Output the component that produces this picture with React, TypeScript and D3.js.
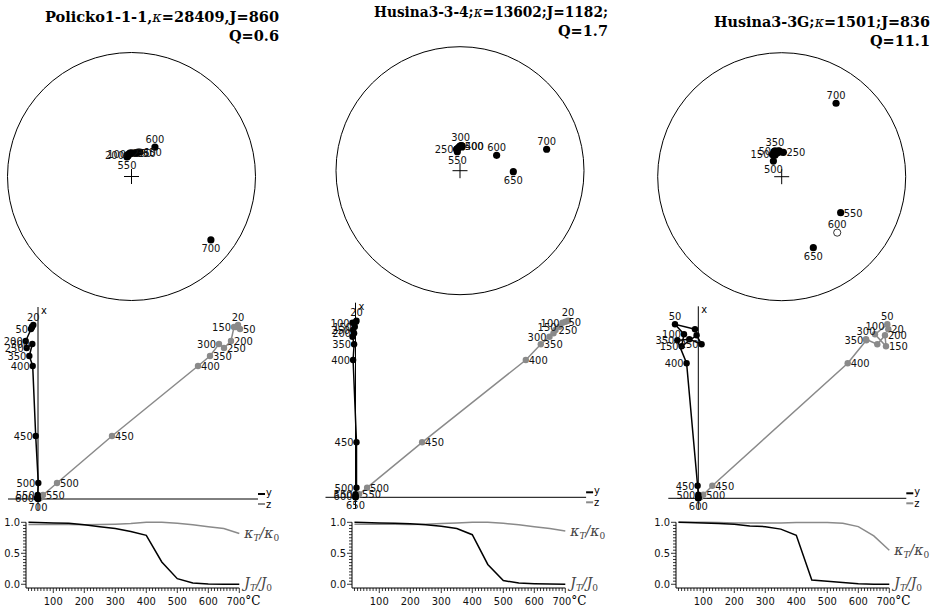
import * as d3 from "d3";

// demagnetisation steps (°C)
const TEMPS = [20, 50, 100, 150, 200, 250, 300, 350, 400, 450, 500, 550, 600, 650, 700];
const T_MAJOR = [100, 200, 300, 400, 500, 600, 700];
const REL_TICKS = [0, 0.5, 1];

// Policko1-1-1
const P1_TITLE = "Policko1-1-1,κ=28409,J=860";
const P1_Q = "Q=0.6";
const P1_DEC = [359, 356, 354, 351, 348, 356, 1, 6, 11, 15, 350, 347, 38.5, 19, 128.6];
const P1_INC = [74.6, 75.2, 75.2, 75.8, 75.7, 74.6, 74.6, 74.5, 74.3, 73.5, 76.4, 76.9, 65.2, 73, 19.2];
const P1_X = [174, 170, 172, 172, 158, 151, 155, 143, 133, 63, 16, 4, 1, 0.5, 0];
const P1_Y = [-4.7, -7, -6, -6, -12.3, -11.3, -5.7, -8.7, -5.3, -2.3, 0.3, -0.3, -1, 0, 0];
const P1_Z = [200, 202, 198, 196, 193, 186, 181, 172, 160, 74, 19, 5, 2, 1, 0];
const P1_JREL = [1.0, 0.995, 0.99, 0.985, 0.96, 0.93, 0.9, 0.85, 0.79, 0.36, 0.09, 0.02, 0.005, 0, 0];
const P1_KREL = [0.965, 0.965, 0.965, 0.965, 0.96, 0.965, 0.97, 0.98, 1.0, 1.0, 0.985, 0.96, 0.93, 0.9, 0.82];

// Husina3-3-4
const P2_TITLE = "Husina3-3-4;κ=13602;J=1182;";
const P2_Q = "Q=1.7";
const P2_DEC = [2, 0, 358, 355, 352, 351, 1.6, 2.4, 4.6, 4.8, 3.9, 352, 67.2, 91, 76.1];
const P2_INC = [73.8, 73.8, 74.5, 75.1, 75.7, 75.8, 73.7, 74.2, 73.7, 74.4, 73.7, 77.4, 63.8, 54.6, 28.8];
const P2_X = [176.6, 175.5, 174.6, 170.6, 164, 167.3, 160.6, 153, 137.3, 55, 9.6, 3, 1.5, 0.3, 0.1];
const P2_Y = [1, 0.5, -3, -0.7, -1.4, -2.4, -3, -1.4, -2.4, 1, 1, 0, 0, 0, 0];
const P2_Z = [212.6, 210, 207, 204, 198, 200, 194, 185.3, 170.3, 66.6, 11.6, 3.6, 1.3, 0.5, 0.2];
const P2_JREL = [1.0, 0.995, 0.99, 0.985, 0.975, 0.96, 0.935, 0.9, 0.8, 0.32, 0.06, 0.02, 0.01, 0.005, 0];
const P2_KREL = [0.97, 0.97, 0.97, 0.97, 0.965, 0.97, 0.98, 0.99, 1.0, 1.0, 0.985, 0.96, 0.93, 0.9, 0.86];

// Husina3-3G
const P3_TITLE = "Husina3-3G;κ=1501;J=836";
const P3_Q = "Q=11.1";
const P3_DEC = [354, 343, 347, 337.5, 358, 4, 352, 345.5, 349, 343, 332, 121.4, 135.2, 156, 36.5];
const P3_INC = [73, 72.7, 73.4, 74.2, 73.8, 74, 73, 72.4, 74.2, 75.2, 78.4, 43.6, -36.6, 37.4, 27.2];
const P3_X = [169, 174, 164, 152, 163, 154, 159, 158, 135, 12.6, 3.6, 1, 0.3, 0.2, 0.1];
const P3_Y = [-3.3, -23.3, -14.3, -16.7, -1.7, 3.3, -9, -21, -11.7, -0.7, 0, 0, 0, 0, 0];
const P3_Z = [190, 189, 176.7, 187.7, 186.7, 179, 167.7, 168, 149.4, 14, 5, 2, 0.5, 0.2, 0.1];
const P3_JREL = [1.0, 0.995, 0.99, 0.98, 0.97, 0.94, 0.93, 0.89, 0.79, 0.07, 0.05, 0.03, 0.01, 0, 0];
const P3_KREL = [1.0, 1.0, 1.0, 0.995, 0.99, 0.99, 0.99, 0.99, 0.995, 0.995, 0.995, 0.985, 0.93, 0.78, 0.55];

// which step labels are written, and on which side of the mark
const P1_LAB = {
  stereo: { 100: "w", 200: "w", 550: "s", 250: "e", 350: "e", 650: "e", 600: "n", 700: "s" },
  black: { 20: "n", 50: "w", 200: "w", 250: "w", 300: "w", 350: "w", 400: "w", 450: "w", 500: "w", 550: "w", 600: "w", 700: "s" },
  gray: { 20: "n", 150: "w", 50: "e", 200: "e", 300: "w", 250: "e", 350: "e", 400: "e", 450: "e", 500: "e", 550: "e" },
};
const P2_LAB = {
  stereo: { 300: "n", 250: "w", 500: "e", 400: "e", 550: "s", 600: "n", 650: "s", 700: "n" },
  black: { 20: "n", 100: "w", 150: "w", 250: "w", 200: "w", 350: "w", 400: "w", 450: "w", 500: "w", 550: "w", 600: "w", 650: "s" },
  gray: { 20: "n", 50: "e", 100: "w", 150: "w", 250: "e", 300: "w", 350: "e", 400: "e", 450: "e", 500: "e", 550: "e" },
};
const P3_LAB = {
  stereo: { 700: "n", 350: "n", 50: "w", 150: "w", 250: "e", 500: "s", 550: "e", 600: "n", 650: "s" },
  black: { 50: "n", 100: "w", 350: "w", 150: "w", 250: "w", 400: "w", 450: "w", 500: "w", 600: "s" },
  gray: { 50: "n", 20: "e", 300: "n", 100: "n", 200: "e", 350: "w", 150: "e", 400: "e", 450: "e", 500: "e" },
};

const SAMPLES = [
  { title: P1_TITLE, q: P1_Q, dec: P1_DEC, inc: P1_INC, x: P1_X, y: P1_Y, z: P1_Z, jrel: P1_JREL, krel: P1_KREL, lab: P1_LAB },
  { title: P2_TITLE, q: P2_Q, dec: P2_DEC, inc: P2_INC, x: P2_X, y: P2_Y, z: P2_Z, jrel: P2_JREL, krel: P2_KREL, lab: P2_LAB },
  { title: P3_TITLE, q: P3_Q, dec: P3_DEC, inc: P3_INC, x: P3_X, y: P3_Y, z: P3_Z, jrel: P3_JREL, krel: P3_KREL, lab: P3_LAB },
];

const LAYOUT = [
  { ox: 0, titleRight: 279, titleW: 234, titleY: 22, sc: [131.5, 176.5], zo: [38, 499] },
  { ox: 326, titleRight: 608, titleW: 234, titleY: 17, sc: [460, 170.7], zo: [355.5, 497.3] },
  { ox: 650, titleRight: 930, titleW: 216, titleY: 27, sc: [781.7, 176.7], zo: [698.3, 498.3] },
];

const SANS = "'DejaVu Sans Condensed', 'DejaVu Sans', sans-serif";
const SERIF = "'DejaVu Serif', serif";
const GRAY = "#8a8a8a";
const R = 124;
const LABEL_SIZE = 11;

function offs(dir: string) {
  if (dir === "n") return { dx: 0, dy: -4.5, anchor: "middle" };
  if (dir === "s") return { dx: 0, dy: 12, anchor: "middle" };
  if (dir === "e") return { dx: 3, dy: 4, anchor: "start" };
  return { dx: -3, dy: 4, anchor: "end" };
}

function Labels({ pts, lab }: { pts: [number, number][]; lab: Record<number, string> }) {
  return (
    <g fontFamily={SANS} fontSize={LABEL_SIZE} fill="#111">
      {TEMPS.map((t, i) => {
        const dir = lab[t];
        if (!dir) return null;
        const o = offs(dir);
        return (
          <text key={t} x={pts[i][0] + o.dx} y={pts[i][1] + o.dy} textAnchor={o.anchor}>
            {t}
          </text>
        );
      })}
    </g>
  );
}

function Title({ text, q, right, w, y }: { text: string; q: string; right: number; w: number; y: number }) {
  const [a, b] = text.split("κ");
  return (
    <g fontFamily={SERIF} fontSize={14.5} fontWeight="bold" fill="#000">
      <text x={right - w} y={y} textLength={w} lengthAdjust="spacingAndGlyphs">
        {a}
        <tspan fontStyle="italic" fontWeight="normal">κ</tspan>
        {b}
      </text>
      <text x={right} y={y + 19} textAnchor="end">{q}</text>
    </g>
  );
}

function Stereonet({ s, cx, cy }: { s: (typeof SAMPLES)[number]; cx: number; cy: number }) {
  const rs = d3.scaleLinear().domain([0, 1]).range([0, R]);
  const pts: [number, number][] = s.dec.map((d, i) => {
    const r = rs(Math.SQRT2 * Math.sin(((90 - Math.abs(s.inc[i])) / 2) * (Math.PI / 180)));
    const a = (d * Math.PI) / 180;
    return [cx + r * Math.sin(a), cy - r * Math.cos(a)];
  });
  return (
    <g>
      <circle cx={cx} cy={cy} r={R} fill="none" stroke="#000" strokeWidth={1} />
      <path d={`M${cx - 7.5},${cy}H${cx + 7.5}M${cx},${cy - 7.5}V${cy + 7.5}`} stroke="#000" strokeWidth={1} />
      {pts.map((p, i) => (
        <circle
          key={i}
          cx={p[0]}
          cy={p[1]}
          r={3.6}
          fill={s.inc[i] >= 0 ? "#000" : "#fff"}
          stroke="#000"
          strokeWidth={s.inc[i] >= 0 ? 0 : 0.8}
        />
      ))}
      <Labels pts={pts} lab={s.lab.stereo} />
    </g>
  );
}

function Zijderveld({ s, ox, oy }: { s: (typeof SAMPLES)[number]; ox: number; oy: number }) {
  const h = d3.scaleLinear().domain([0, 100]).range([ox, ox + 100]);
  const v = d3.scaleLinear().domain([0, 100]).range([oy, oy - 100]);
  const hEnd = h(d3.max(s.z)! + 18);
  const vTop = v(d3.max(s.x)! + 18);
  const black: [number, number][] = s.x.map((xv, i) => [h(s.y[i]), v(xv)]);
  const gray: [number, number][] = s.x.map((xv, i) => [h(s.z[i]), v(xv)]);
  const line = d3.line();
  return (
    <g>
      <line x1={h(-30)} x2={hEnd} y1={oy} y2={oy} stroke="#000" strokeWidth={1} />
      <line x1={ox} x2={ox} y1={v(-11)} y2={vTop} stroke="#000" strokeWidth={1} />
      <text x={ox + 3} y={vTop + 7} fontFamily={SANS} fontSize={LABEL_SIZE}>x</text>
      <line x1={hEnd} x2={hEnd + 7} y1={oy - 5} y2={oy - 5} stroke="#000" strokeWidth={2} />
      <text x={hEnd + 8} y={oy - 3} fontFamily={SANS} fontSize={LABEL_SIZE}>y</text>
      <line x1={hEnd} x2={hEnd + 7} y1={oy + 5} y2={oy + 5} stroke={GRAY} strokeWidth={2} />
      <text x={hEnd + 8} y={oy + 8.5} fontFamily={SANS} fontSize={LABEL_SIZE}>z</text>
      <path d={line(gray)!} fill="none" stroke={GRAY} strokeWidth={1.5} />
      {gray.map((p, i) => (
        <circle key={i} cx={p[0]} cy={p[1]} r={3.2} fill={GRAY} />
      ))}
      <path d={line(black)!} fill="none" stroke="#000" strokeWidth={1.5} />
      {black.map((p, i) => (
        <circle key={i} cx={p[0]} cy={p[1]} r={3.2} fill="#000" />
      ))}
      <Labels pts={black} lab={s.lab.black} />
      <Labels pts={gray} lab={s.lab.gray} />
    </g>
  );
}

function Decay({ s, ox }: { s: (typeof SAMPLES)[number]; ox: number }) {
  const x = d3.scaleLinear().domain([12, 700]).range([ox + 26, ox + 239.3]);
  const y = d3.scaleLinear().domain([-0.06, 1]).range([588, 522.3]);
  const line = d3.line<number>().x((_, i) => x(TEMPS[i])).y((d) => y(d));
  const minorT = d3.range(20, 701, 10);
  const minorR = d3.range(0, 1.001, 0.05);
  return (
    <g>
      <path d={line(s.krel)!} fill="none" stroke={GRAY} strokeWidth={1.5} />
      <path d={line(s.jrel)!} fill="none" stroke="#000" strokeWidth={1.5} />
      <line x1={x(12)} x2={x(700)} y1={588} y2={588} stroke="#000" />
      <line x1={x(12)} x2={x(12)} y1={588} y2={y(1)} stroke="#000" />
      {minorT.map((t) => (
        <line key={t} x1={x(t)} x2={x(t)} y1={588} y2={T_MAJOR.includes(t) ? 593 : 591} stroke="#000" strokeWidth={0.8} />
      ))}
      {minorR.map((r) => (
        <line key={r} x1={x(12)} x2={x(12) - (REL_TICKS.some((m) => Math.abs(m - r) < 1e-6) ? 5 : 3)} y1={y(r)} y2={y(r)} stroke="#000" strokeWidth={0.8} />
      ))}
      <g fontFamily={SANS} fontSize={LABEL_SIZE} fill="#111">
        {T_MAJOR.map((t) => (
          <text key={t} x={x(t)} y={605} textAnchor={t === 700 ? "end" : "middle"} dx={t === 700 ? 6 : 0}>
            {t}
          </text>
        ))}
        {REL_TICKS.map((r) => (
          <text key={r} x={x(12) - 6} y={y(r) + 4} textAnchor="end">
            {r.toFixed(1)}
          </text>
        ))}
      </g>
      <text x={x(700) + 6} y={605} fontFamily={SERIF} fontSize={12}>°C</text>
      <g fontFamily={SERIF} fontSize={14} fontStyle="italic" fill="#444">
        <text x={x(700) + 5} y={y(s.krel[s.krel.length - 1]) + 5}>
          κ<tspan fontSize={9} dy={3}>T</tspan>
          <tspan dy={-3}>/κ</tspan>
          <tspan fontSize={9} dy={3} fontStyle="normal">0</tspan>
        </text>
        <text x={x(700) + 5} y={y(0) + 4}>
          J<tspan fontSize={9} dy={3}>T</tspan>
          <tspan dy={-3}>/J</tspan>
          <tspan fontSize={9} dy={3} fontStyle="normal">0</tspan>
        </text>
      </g>
    </g>
  );
}

export default function App() {
  return (
    <svg width={932} height={611} style={{ position: "absolute", left: 0, top: 0, background: "#fff" }}>
      {SAMPLES.map((s, k) => {
        const L = LAYOUT[k];
        return (
          <g key={k}>
            <Title text={s.title} q={s.q} right={L.titleRight} w={L.titleW} y={L.titleY} />
            <Stereonet s={s} cx={L.sc[0]} cy={L.sc[1]} />
            <Zijderveld s={s} ox={L.zo[0]} oy={L.zo[1]} />
            <Decay s={s} ox={L.ox} />
          </g>
        );
      })}
    </svg>
  );
}
